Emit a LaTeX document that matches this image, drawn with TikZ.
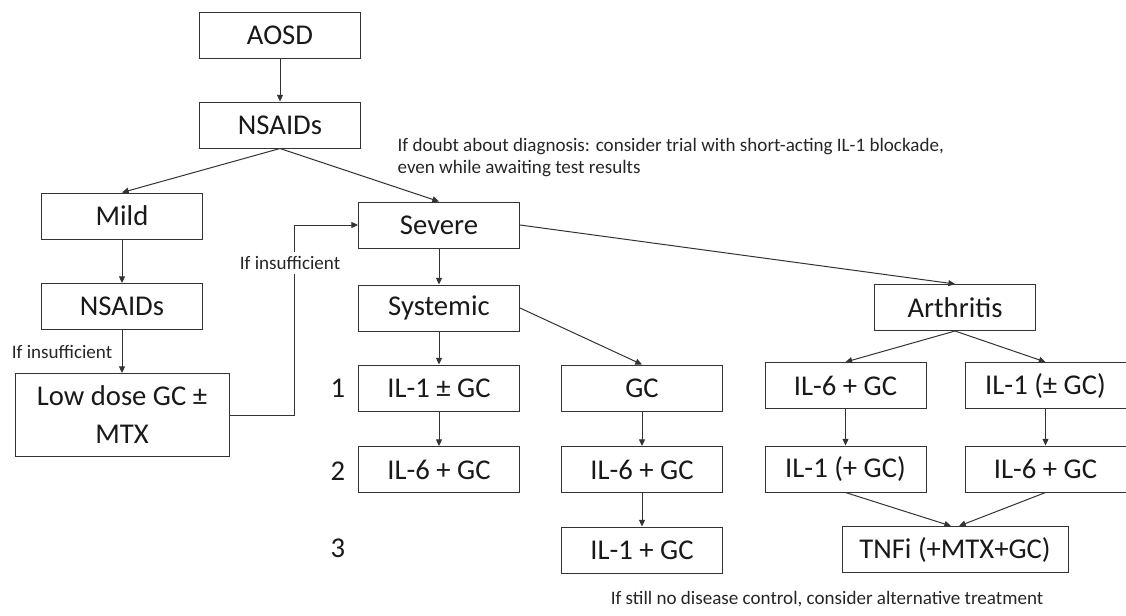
\documentclass[tikz,border=0pt]{standalone}
\usepackage{fontspec}
\setmainfont{Carlito}
\usetikzlibrary{arrows.meta}

\begin{document}
\begin{tikzpicture}[x=0.75pt, y=-0.75pt,
    >={Triangle[length=5pt,width=4.5pt]},
    conn/.style={draw=black!80, line width=0.75pt, ->},
    box/.style={draw=black!80, line width=0.75pt, minimum width=120.75pt, minimum height=34.5pt,
        inner sep=2pt, font=\fontsize{21.5}{28.5}\selectfont, text=black!90},
    note/.style={font=\fontsize{14.3}{16}\selectfont, text=black!85, inner sep=1pt},
    num/.style={font=\fontsize{21.5}{26}\selectfont, text=black!90}]
  \useasboundingbox (0,0) rectangle (1126,615);

  % left branch
  \node[box] (aosd) at (280,35) {AOSD};
  \node[box] (nsaids) at (280,125) {NSAIDs};
  \node[box] (mild) at (122,216) {Mild};
  \node[box] (nsaidsb) at (122,306.5) {NSAIDs};
  \node[box, minimum width=160.5pt, minimum height=62.25pt, align=center] (lowdose) at (122,415) {Low dose GC ±\\MTX};

  % severe, systemic
  \node[box] (severe) at (439,225) {Severe};
  \node[box] (systemic) at (439,308) {Systemic};
  \node[box] (ilone) at (439,388) {IL-1 ± GC};
  \node[box] (ilsixa) at (439,469.5) {IL-6 + GC};
  \node[box] (gc) at (642,388) {GC};
  \node[box] (ilsixb) at (642,469.5) {IL-6 + GC};
  \node[box] (iloneb) at (642,550) {IL-1 + GC};

  % arthritis
  \node[box] (arthritis) at (955,307.5) {Arthritis};
  \node[box] (ilsixc) at (845.5,385.5) {IL-6 + GC};
  \node[box] (ilonec) at (1045.5,385.5) {IL-1 (± GC)};
  \node[box] (ilonep) at (845.5,469) {IL-1 (+ GC)};
  \node[box] (ilsixd) at (1045.5,469) {IL-6 + GC};
  \node[box, minimum width=169.5pt] (tnfi) at (955,549.5) {TNFi (+MTX+GC)};

  % line numbers
  \node[num] (one) at (338,388) {1};
  \node[num] (two) at (338,471) {2};
  \node[num] (three) at (338,548) {3};

  % notes
  \node[note, anchor=west, align=left] (doubt) at (396,157.5) {If doubt about diagnosis: consider trial with short-acting IL-1 blockade,\\even while awaiting test results};
  \node[note] (stillno) at (827,599) {If still no disease control, consider alternative treatment};

  \draw[conn] (aosd) -- (nsaids);
  \draw[conn] (nsaids.south) -- (mild.north);
  \draw[conn] (nsaids.south) -- (severe.north);
  \draw[conn] (mild) -- (nsaidsb);
  \draw[conn] (nsaidsb) -- (lowdose);
  \node[note] (insuffa) at (62,352) {If insufficient};
  \coordinate (bend) at (294,225);
  \draw[conn] (lowdose.east) -| (bend) -- (severe.west);
  \node[note, fill=white, inner sep=3pt] (insuffb) at (290,263) {If insufficient};

  \draw[conn] (severe) -- (systemic);
  \draw[conn] (severe.east) -- (arthritis.north);
  \draw[conn] (systemic) -- (ilone);
  \draw[conn] (systemic.east) -- (gc.north);
  \draw[conn] (ilone) -- (ilsixa);
  \draw[conn] (gc) -- (ilsixb);
  \draw[conn] (ilsixb) -- (iloneb);

  \draw[conn] (arthritis.south) -- (ilsixc.north);
  \draw[conn] (arthritis.south) -- (ilonec.north);
  \draw[conn] (ilsixc) -- (ilonep);
  \draw[conn] (ilonec) -- (ilsixd);
  \draw[conn] (ilonep.south) -- ([xshift=-3]tnfi.north);
  \draw[conn] (ilsixd.south) -- ([xshift=3]tnfi.north);
\end{tikzpicture}
\end{document}
